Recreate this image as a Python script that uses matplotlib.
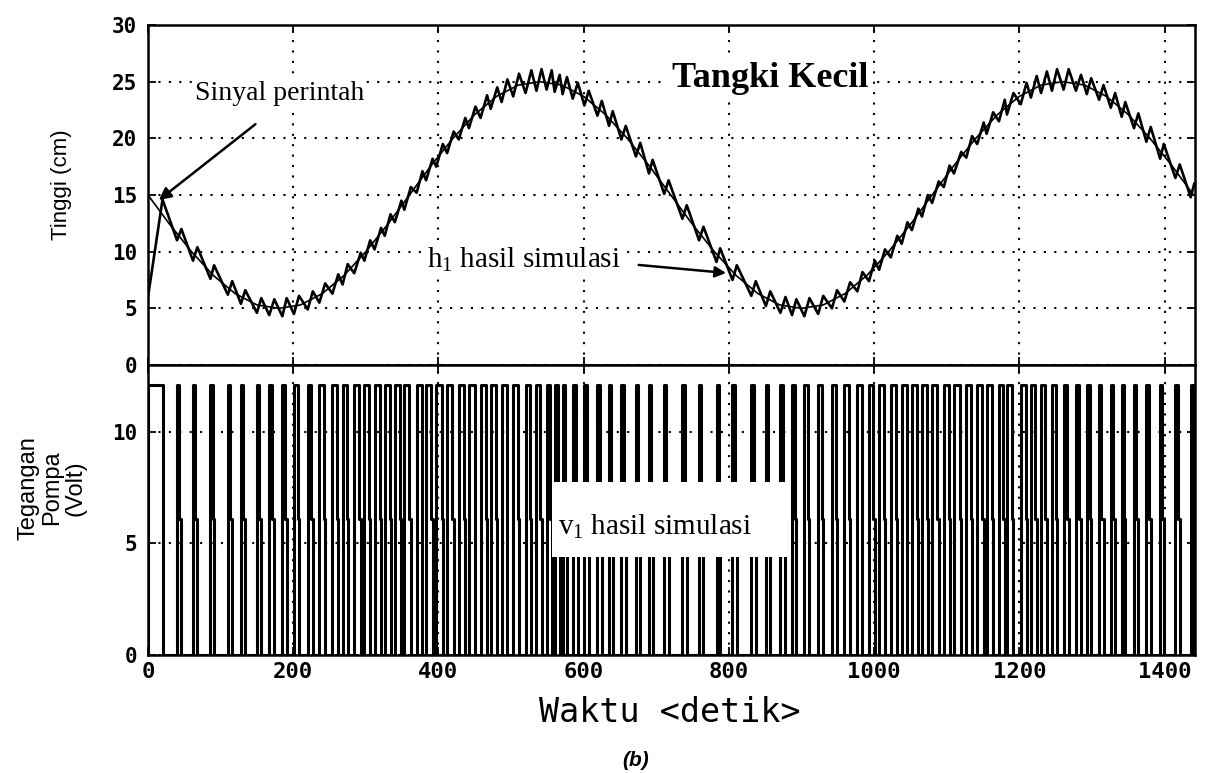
import matplotlib
matplotlib.use("Agg")
import matplotlib.pyplot as plt
from matplotlib.patches import Rectangle

plt.rcParams["mathtext.fontset"] = "custom"
plt.rcParams["mathtext.rm"] = "Liberation Serif"
plt.rcParams["mathtext.it"] = "Liberation Serif:italic"
plt.rcParams["mathtext.default"] = "rm"

# --- reference (command) signal, read every 30 s ---
ref_time = list(range(0, 1441, 30))
ref_height = [15.0, 12.4, 10.0, 7.9, 6.3, 5.3, 5.0, 5.3, 6.3, 7.9, 10.0, 12.4,
              15.0, 17.6, 20.0, 22.1, 23.7, 24.7, 25.0, 24.7, 23.7, 22.1, 20.0, 17.6,
              15.0, 12.4, 10.0, 7.9, 6.3, 5.3, 5.0, 5.3, 6.3, 7.9, 10.0, 12.4,
              15.0, 17.6, 20.0, 22.1, 23.7, 24.7, 25.0, 24.7, 23.7, 22.1, 20.0, 17.6,
              15.0]

# --- pump pulses: start time, seconds at high level, seconds at mid level ---
pulse_start = [0, 40, 62, 86, 110, 128, 150, 167, 185,
               201, 220, 236, 254, 268, 284, 298, 312, 326, 340, 353, 370, 383, 397,
               412, 428, 442, 458, 472, 487, 503, 520, 535, 549,
               560, 571, 585, 601, 619, 635, 652, 672, 690, 711, 736, 759, 783, 805,
               831, 851, 871, 887,
               904, 923, 942, 959, 977, 993, 1007, 1023, 1038, 1052, 1066, 1080, 1096,
               1110, 1127, 1142, 1155, 1172, 1183, 1202, 1216, 1230, 1245, 1261,
               1278, 1293, 1310, 1326, 1341, 1358, 1375, 1394, 1415, 1436]
pulse_high = [20, 3, 3, 3, 3, 3, 3, 4, 4,
              5, 5, 6, 6, 6, 7, 7, 7, 7, 7, 7, 7, 7, 8, 7, 7, 8, 7, 7, 7, 6, 6, 5, 5,
              4, 4, 4, 3, 3, 3, 3, 3, 3, 3, 3, 3, 3, 3, 3, 3, 4, 4,
              5, 5, 5, 6, 6, 6, 7, 7, 7, 7, 7, 7, 7, 8, 7, 7, 8, 6, 7, 7, 6, 6, 5, 5,
              4, 4, 3, 3, 3, 3, 3, 3, 3, 3]
pulse_mid = [0, 3, 3, 2, 3, 3, 3, 3, 2,
             2, 2, 2, 2, 1, 2, 1, 2, 1, 2, 2, 1, 2, 1, 2, 2, 1, 2, 2, 1, 2, 2, 2, 2,
             3, 2, 3, 3, 3, 2, 3, 3, 2, 3, 3, 3, 2, 3, 3, 3, 3, 2,
             2, 2, 2, 2, 1, 2, 1, 2, 1, 2, 1, 2, 1, 2, 1, 2, 1, 2, 2, 1, 2, 2, 2, 2,
             3, 2, 3, 3, 2, 3, 3, 2, 3, 2]
V_HIGH = 12.1
V_MID = 6.1

# --- simulated level h1: value at pulse start and at pulse end ---
h1_low = [6.0, 11.0, 9.2, 7.6, 6.2, 5.4, 4.6, 4.4, 4.3,
          4.5, 4.9, 5.5, 6.3, 7.1, 8.1, 9.2, 10.2, 11.4, 12.6, 13.7, 15.2, 16.3, 17.5,
          18.7, 19.9, 20.9, 21.8, 22.6, 23.2, 23.7, 24.0, 24.2, 24.3,
          24.1, 23.9, 23.5, 22.9, 22.0, 21.1, 19.9, 18.4, 16.9, 15.1, 12.9, 11.0, 9.1,
          7.5, 6.1, 5.2, 4.6, 4.4,
          4.3, 4.5, 5.0, 5.6, 6.5, 7.4, 8.4, 9.5, 10.7, 11.9, 13.1, 14.3, 15.7, 16.9,
          18.3, 19.5, 20.4, 21.5, 22.1, 23.0, 23.6, 24.0, 24.2, 24.3,
          24.2, 23.9, 23.4, 22.7, 21.9, 20.9, 19.7, 18.2, 16.5, 14.8]
h1_high = [14.6, 12.0, 10.4, 8.8, 7.4, 6.6, 5.9, 5.8, 5.9,
           6.1, 6.5, 7.2, 8.0, 8.9, 9.9, 11.0, 12.1, 13.3, 14.5, 15.7, 17.1, 18.2, 19.5,
           20.6, 21.8, 22.8, 23.8, 24.5, 25.2, 25.7, 26.0, 26.1, 26.0,
           25.6, 25.4, 24.9, 24.2, 23.3, 22.4, 21.1, 19.6, 18.1, 16.3, 14.1, 12.2, 10.3,
           8.8, 7.4, 6.5, 6.0, 5.8,
           5.9, 6.1, 6.6, 7.3, 8.2, 9.2, 10.2, 11.4, 12.6, 13.8, 15.0, 16.2, 17.6, 18.8,
           20.2, 21.4, 22.3, 23.4, 24.0, 24.9, 25.5, 25.9, 26.1, 26.1,
           25.6, 25.3, 24.7, 24.0, 23.2, 22.2, 21.0, 19.5, 17.7, 16.0]

x_ticks = [0, 200, 400, 600, 800, 1000, 1200, 1400]
h_ticks = [0, 5, 10, 15, 20, 25, 30]
v_ticks = [0, 5, 10]

# build the step waveform and the zig-zag level curve from the pulse lists
v_t, v_v = [0], [0]
h_t, h_v = [], []
for s, hw, mw, lo, hi in zip(pulse_start, pulse_high, pulse_mid, h1_low, h1_high):
    v_t.append(s); v_v.append(0)
    if hw > 0:
        v_t += [s, s + hw]; v_v += [V_HIGH, V_HIGH]
    if mw > 0:
        v_t += [s + hw, s + hw + mw]; v_v += [V_MID, V_MID]
    v_t.append(s + hw + mw); v_v.append(0)
    h_t += [s, s + hw + mw]; h_v += [lo, hi]

W, H = 1216, 773
fig = plt.figure(figsize=(W / 100, H / 100), dpi=100)
ax1 = fig.add_axes([148 / W, 1 - 365 / H, 1047 / W, 340 / H])
ax2 = fig.add_axes([148 / W, 1 - 655 / H, 1047 / W, 290 / H])

tick_font = dict(family="DejaVu Sans Mono", weight="bold")
grid_style = dict(color="black", linestyle=(0, (1, 4)), linewidth=1.5)

for ax in (ax1, ax2):
    ax.set_xlim(0, 1442)
    ax.set_xticks(x_ticks)
    ax.grid(True, **grid_style)
    ax.tick_params(direction="in", length=6, width=1.3, top=True, right=True,
                   labelsize=15, pad=8)
    for sp in ax.spines.values():
        sp.set_linewidth(1.8)

ax1.plot(ref_time, ref_height, color="black", lw=1.2, zorder=2)
ax1.plot(h_t, h_v, color="black", lw=1.9, zorder=3)
ax1.set_ylim(0, 30)
ax1.set_yticks(h_ticks)
ax1.set_yticklabels([str(v) for v in h_ticks], **tick_font)
ax1.tick_params(labelbottom=False)

ax2.plot(v_t, v_v, color="black", lw=2.2, zorder=2)
ax2.set_ylim(0, 13)
ax2.set_yticks(v_ticks)
ax2.set_yticklabels([str(v) for v in v_ticks], **tick_font)
ax2.set_xticklabels([str(v) for v in x_ticks], fontsize=16, **tick_font)
ax2.tick_params(axis="x", pad=5)

serif = "Liberation Serif"
ax1.text(722, 24.5, "Tangki Kecil", family=serif, weight="bold", fontsize=26,
         ha="left", va="baseline", zorder=4,
         bbox=dict(fc="white", ec="none", pad=3))
ax1.text(65, 23.4, "Sinyal perintah", family=serif, fontsize=20,
         ha="left", va="baseline", zorder=4,
         bbox=dict(fc="white", ec="none", pad=1))
ax1.annotate("", xy=(12, 14.4), xytext=(151, 21.4),
             arrowprops=dict(arrowstyle="-|>", color="black", lw=1.8,
                             mutation_scale=18), zorder=4)
ax1.text(384, 8.6, "h$_1$ hasil simulasi", family=serif, fontsize=21,
         ha="left", va="baseline", zorder=4,
         bbox=dict(fc="white", ec="none", pad=1))
ax1.annotate("", xy=(800, 8.1), xytext=(672, 8.85),
             arrowprops=dict(arrowstyle="-|>", color="black", lw=1.8,
                             mutation_scale=16), zorder=4)

ax2.add_patch(Rectangle((556, 4.4), 324, 3.36, fc="white", ec="none", zorder=4))
ax2.text(564, 5.4, "v$_1$ hasil simulasi", family=serif, fontsize=21,
         ha="left", va="baseline", zorder=5)

fig.text(61 / W, 1 - 185 / H, "Tinggi (cm)", rotation=90, ha="center", va="center",
         family="Liberation Sans", fontsize=16)
fig.text(52 / W, 1 - 488 / H, "Tegangan\nPompa\n(Volt)", rotation=90, ha="center",
         va="center", multialignment="center", family="Liberation Sans",
         fontsize=17, linespacing=1.1)
fig.text(670 / W, 1 - 713 / H, "Waktu <detik>", ha="center", va="center",
         family="DejaVu Sans Mono", fontsize=24)
fig.text(636 / W, 1 - 760 / H, "(b)", ha="center", va="center",
         family="Liberation Sans", style="italic", weight="bold", fontsize=15)

fig.savefig("out.png", dpi=100)
